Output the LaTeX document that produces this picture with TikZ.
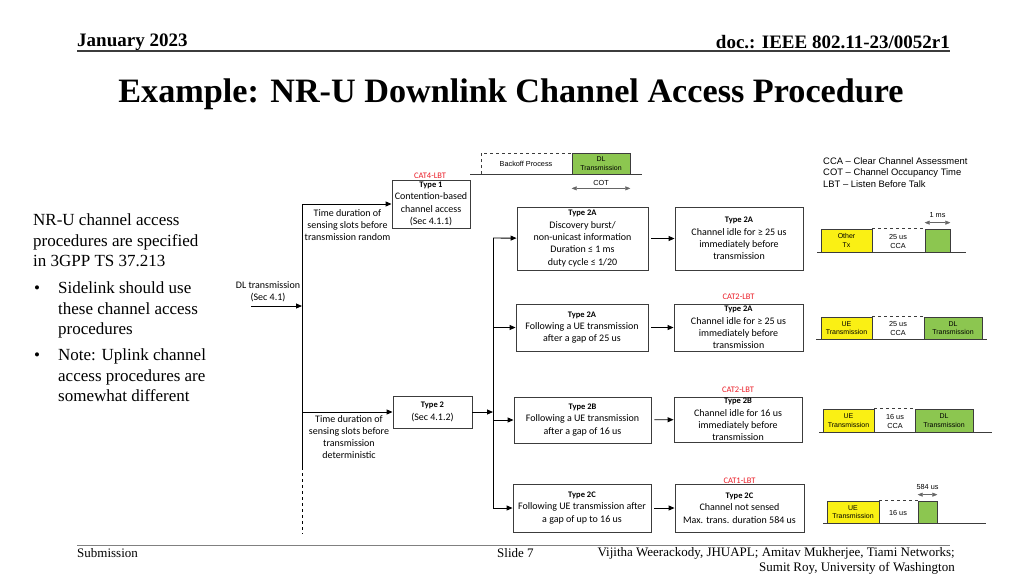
\documentclass[tikz,border=0pt]{standalone}
\usepackage{fontspec}
\setmainfont{Liberation Serif}
\newfontfamily\calfont{Carlito}
\newfontfamily\arfont{Liberation Sans}
\usetikzlibrary{arrows.meta, positioning}

\definecolor{txyellow}{RGB}{250,240,20}
\definecolor{txgreen}{RGB}{140,198,80}
\definecolor{catred}{RGB}{235,30,40}
\definecolor{boxline}{RGB}{60,60,60}
\newcommand{\typ}[1]{{\bfseries\fontsize{8.5}{10}\selectfont #1}}

\tikzset{
  procbox/.style={draw=boxline, line width=0.9pt, inner sep=0pt, align=center,
    font=\calfont\fontsize{10}{12.3}\selectfont},
  lbl/.style={inner sep=0pt, align=center, font=\calfont\fontsize{10}{12}\selectfont},
  catlbl/.style={inner sep=0pt, text=catred, font=\calfont\fontsize{8.5}{10}\selectfont},
  arr/.style={-{Triangle[length=6pt,width=5pt]}, line width=0.9pt},
  tx/.style={draw=boxline, line width=0.7pt, inner sep=0pt, align=center,
    font=\arfont\fontsize{7}{8.5}\selectfont},
  ue/.style={tx, fill=txyellow},
  dl/.style={tx, fill=txgreen},
  small/.style={inner sep=0pt, align=center, font=\arfont\fontsize{7.3}{9}\selectfont},
  baseline/.style={line width=0.9pt, draw=boxline},
  dblarr/.style={{Triangle[length=5pt,width=4pt]}-{Triangle[length=5pt,width=4pt]},
    line width=0.5pt, draw=gray!80!black},
  slide/.style={inner sep=0pt, font=\fontsize{17}{20.5}\selectfont},
}

\begin{document}
\begin{tikzpicture}[x=1pt, y=-1pt]
\useasboundingbox (0,0) rectangle (1024,576);
\fill[white] (0,0) rectangle (1024,576);

% header and footer
\node[anchor=base west, inner sep=0pt, font=\bfseries\fontsize{19}{22}\selectfont] (date) at (77,46) {January 2023};
\node[anchor=base east, inner sep=0pt, font=\bfseries\fontsize{19}{22}\selectfont] (docid) at (950,48) {doc.: IEEE 802.11-23/0052r1};
\draw[line width=1.5pt, boxline] (date.base west |- 0,51) -- (docid.base east |- 0,51);
\node[anchor=base, inner sep=0pt, font=\bfseries\fontsize{34.2}{38}\selectfont] (title) at (511,102) {Example: NR-U Downlink Channel Access Procedure};
\draw[line width=0.8pt, gray] (77,545) -- (950,545);
\node[anchor=base west, inner sep=0pt, font=\fontsize{13}{15}\selectfont] (subm) at (77,557) {Submission};
\node[anchor=base west, inner sep=0pt, font=\fontsize{13}{15}\selectfont] (slideno) at (497,557) {Slide 7};
\node[anchor=north east, inner sep=0pt, align=right, font=\fontsize{13}{15}\selectfont] (authors) at (955,547.5)
  {Vijitha Weerackody, JHUAPL; Amitav Mukherjee, Tiami Networks;\\Sumit Roy, University of Washington};

% left column text
\node[slide, anchor=north west, align=left] (intro) at (33,213.5) {NR-U channel access\\procedures are specified\\in 3GPP TS 37.213};
\node[slide, anchor=base west] (bul1) at (34,293) {•};
\node[slide, anchor=north west, align=left] (side) at (58,281.5) {Sidelink should use\\these channel access\\procedures};
\node[slide, anchor=base west] (bul2) at (34,360) {•};
\node[slide, anchor=north west, align=left] (note) at (58,348.5) {Note: Uplink channel\\access procedures are\\somewhat different};

% procedure tree
\coordinate (trunkTop) at (302,204);
\coordinate (trunkBot) at (302,467);
\coordinate (trunkEnd) at (302,534);
\coordinate (dlstart) at (251,306);
\coordinate (subTop) at (493,238);
\coordinate (subBot) at (493,508);

\node[lbl] (dllbl) at (268,291.5) {DL transmission\\(Sec 4.1)};
\node[procbox, minimum width=78, minimum height=48] (type1) at (431,204)
  {\typ{Type 1}\\Contention-based\\channel access\\(Sec 4.1.1)};
\node[catlbl] (cat4) at (430,175.5) {CAT4-LBT};
\node[lbl] (randlbl) at (347.5,225) {Time duration of\\sensing slots before\\transmission random};
\node[procbox, minimum width=79, minimum height=32] (type2) at (432.5,412) {\typ{Type 2}\\(Sec 4.1.2)};
\node[lbl] (detlbl) at (349,437.5) {Time duration of\\sensing slots before\\transmission\\deterministic};

\node[procbox, minimum width=131, minimum height=63] (a1) at (582.5,238.5)
  {\typ{Type 2A}\\Discovery burst/\\non-unicast information\\Duration ≤ 1 ms\\duty cycle ≤ 1/20};
\node[procbox, minimum width=128, minimum height=63] (b1) at (739,238.5)
  {\typ{Type 2A}\\Channel idle for ≥ 25 us\\immediately before\\transmission};
\node[procbox, minimum width=132, minimum height=47] (a2) at (582,327.5)
  {\typ{Type 2A}\\Following a UE transmission\\after a gap of 25 us};
\node[procbox, minimum width=129, minimum height=47] (b2) at (738.5,327.5)
  {\typ{Type 2A}\\Channel idle for ≥ 25 us\\immediately before\\transmission};
\node[catlbl] (cat2a) at (738.5,297) {CAT2-LBT};
\node[procbox, minimum width=137, minimum height=46] (a3) at (582.5,420)
  {\typ{Type 2B}\\Following a UE transmission\\after a gap of 16 us};
\node[procbox, minimum width=128, minimum height=45] (b3) at (738,419.5)
  {\typ{Type 2B}\\Channel idle for 16 us\\immediately before\\transmission};
\node[catlbl] (cat2b) at (738,390) {CAT2-LBT};
\node[procbox, minimum width=138, minimum height=48] (a4) at (582,508)
  {\typ{Type 2C}\\Following UE transmission after\\a gap of up to 16 us};
\node[procbox, minimum width=129, minimum height=48] (b4) at (739.5,508)
  {\typ{Type 2C}\\Channel not sensed\\Max. trans. duration 584 us};
\node[catlbl] (cat1) at (739.5,481) {CAT1-LBT};

\draw[line width=0.9pt] (trunkTop) -- (trunkBot);
\draw[line width=0.9pt, dashed] (trunkBot) -- (trunkEnd);
\draw[arr] (dlstart) -- (dlstart -| trunkTop);
\draw[arr] (trunkTop) -- (type1);
\draw[arr] (trunkTop |- type2) -- (type2);
\draw[arr] (type2) -- (type2 -| subTop);
\draw[line width=0.9pt] (subTop) -- (subBot);
\draw[arr] (subTop) -- (a1);
\draw[arr] (subTop |- a2) -- (a2);
\draw[arr] (subTop |- a3) -- (a3);
\draw[arr] (subBot) -- (a4);
\foreach \i in {1,2,3,4}
  \draw[arr, shorten <=3pt] (a\i) -- (b\i);

% backoff and COT
\draw[baseline] (470,174) -- (642,174);
\draw[dashed, boxline, line width=0.9pt] (481,174) -- (481,153) -- (572,153);
\node[small] (bkoff) at (526,163.5) {Backoff Process};
\node[dl, minimum width=58, minimum height=21] (dltx) at (601,163.5) {DL\\Transmission};
\draw[dblarr] ([yshift=-14pt]dltx.south west) -- ([yshift=-14pt]dltx.south east);
\node[small] (cot) at ([yshift=-8.5pt]dltx.south) {COT};

% abbreviations
\node[anchor=north west, inner sep=0pt, align=left, font=\arfont\fontsize{9.4}{11.5}\selectfont] (abbr) at (823,157)
  {CCA – Clear Channel Assessment\\COT – Channel Occupancy Time\\LBT – Listen Before Talk};

% timing 1
\draw[baseline] (817,252) -- (966,252);
\node[ue, minimum width=51, minimum height=23] (oth1) at (846.5,240.5) {Other\\Tx};
\node[dl, minimum width=25, minimum height=23] (dl1) at (937.5,240.5) {};
\draw[dashed, boxline, line width=0.7pt] (oth1.north east) -- (dl1.north west);
\node[small] (cca1) at (898,241.5) {25 us\\CCA};
\draw[dblarr] ([yshift=6pt]dl1.north west) -- ([yshift=6pt]dl1.north east);
\node[small] (ms1) at ([yshift=14pt]dl1.north) {1 ms};

% timing 2
\draw[baseline] (816,339) -- (987,339);
\node[ue, minimum width=51, minimum height=22] (ue2) at (846.5,328) {UE\\Transmission};
\node[dl, minimum width=58, minimum height=22] (dl2) at (953,328) {DL\\Transmission};
\draw[dashed, boxline, line width=0.7pt] (ue2.north east) -- (dl2.north west);
\node[small] (cca2) at (898,328.5) {25 us\\CCA};

% timing 3
\draw[baseline] (819,432) -- (992,432);
\node[ue, minimum width=51, minimum height=23] (ue3) at (848.5,420.5) {UE\\Transmission};
\node[dl, minimum width=58, minimum height=23] (dl3) at (944,420.5) {DL\\Transmission};
\draw[dashed, boxline, line width=0.7pt] (ue3.north east) -- (dl3.north west);
\node[small] (cca3) at (895,421) {16 us\\CCA};

% timing 4
\draw[baseline] (823,523) -- (986,523);
\node[ue, minimum width=52, minimum height=22] (ue4) at (853,512) {UE\\Transmission};
\node[dl, minimum width=19, minimum height=22] (dl4) at (927.5,512) {};
\draw[dashed, boxline, line width=0.7pt] (ue4.north east) -- (dl4.north west);
\node[small] (gap4) at (898,513) {16 us};
\draw[dblarr] ([yshift=6pt]dl4.north west) -- ([yshift=6pt]dl4.north east);
\node[small] (us4) at ([yshift=14pt]dl4.north) {584 us};
\end{tikzpicture}
\end{document}
